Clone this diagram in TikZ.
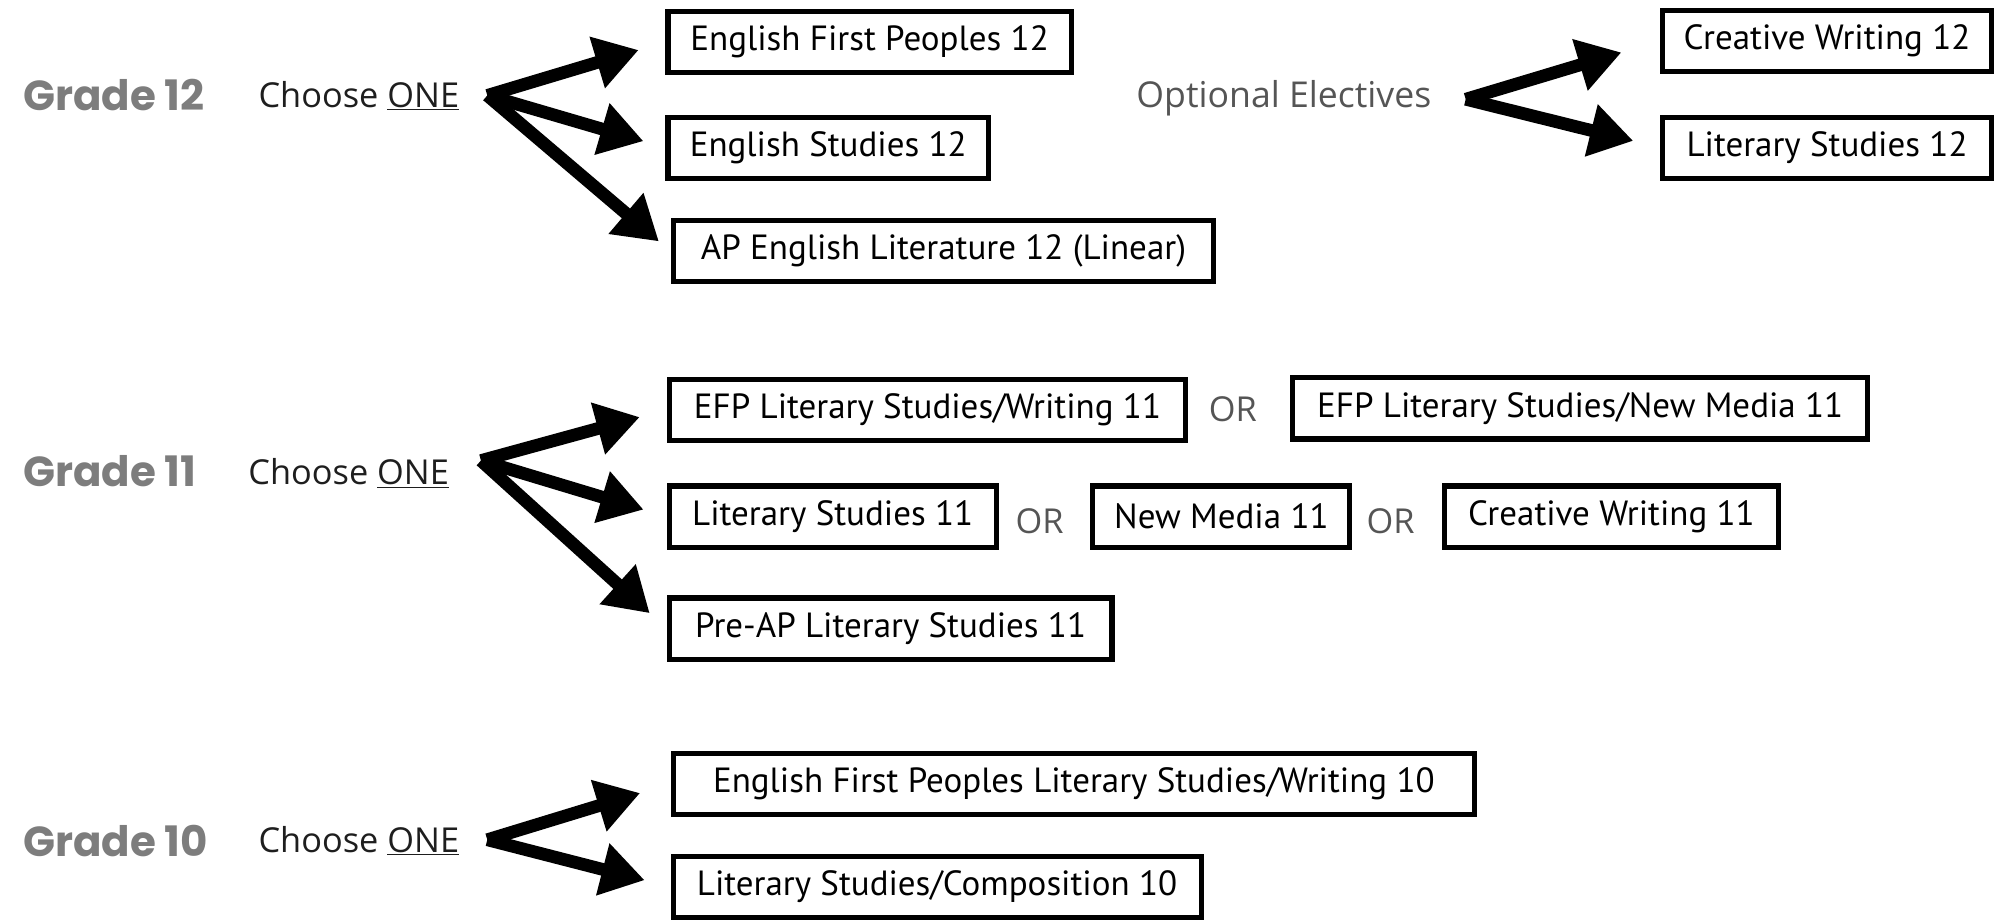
\documentclass[tikz,border=0pt]{standalone}
\usepackage{fontspec}
\setmainfont{PT Sans}
\newfontfamily\gradefont{Poppins}
\newfontfamily\lightfont{Open Sans}
\usetikzlibrary{arrows.meta}
\definecolor{gradegray}{RGB}{125,125,125}
\definecolor{textdark}{RGB}{30,30,30}
\definecolor{electgray}{RGB}{85,85,85}
\begin{document}
\begin{tikzpicture}[x=1pt,y=-1pt,
  box/.style={draw, line width=4pt, minimum height=48pt, inner sep=0pt, anchor=west, font=\fontsize{27.5}{30}\selectfont},
  grade/.style={anchor=west, inner sep=0pt, text=gradegray, font=\gradefont\bfseries\fontsize{33}{36}\selectfont},
  choose/.style={anchor=west, inner sep=0pt, text=textdark, font=\lightfont\fontsize{27}{30}\selectfont},
  ortext/.style={inner sep=0pt, text=electgray, font=\lightfont\fontsize{27}{30}\selectfont},
  arr/.style={line width=10pt, -{Triangle[length=34pt,width=40pt]}}
]
\useasboundingbox (0,0) rectangle (1568,724);

% Grade 12
\node[grade] (g12) at (18,75) {Grade 12};
\node[choose] (c12) at (203,75) {Choose \underline{ONE}};
\coordinate (o12) at (383,75);
\node[box, minimum width=317pt] (efp12) at (523,33) {English First Peoples 12};
\node[box, minimum width=252pt] (es12) at (523,116) {English Studies 12};
\node[box, minimum width=425pt] (ap12) at (527,197.5) {AP English Literature 12 (Linear)};
\draw[arr, shorten >=22pt] (o12) -- (efp12.west);
\draw[arr, shorten >=18pt] (o12) -- (es12.west);
\draw[arr, shorten >=12pt] (o12) -- (ap12.west);

\node[choose, text=electgray, font=\lightfont\fontsize{28}{30}\selectfont] (oe) at (893,77) {Optional Electives};
\coordinate (ooe) at (1152,78);
\node[box, minimum width=258pt] (cw12) at (1305,32) {Creative Writing 12};
\node[box, minimum width=258pt] (ls12) at (1305,116) {Literary Studies 12};
\draw[arr, shorten >=32pt] (ooe) -- (cw12.west);
\draw[arr, shorten >=22pt] (ooe) -- (ls12.west);

% Grade 11
\node[grade] (g11) at (18,370) {Grade 11};
\node[choose] (c11) at (195,372) {Choose \underline{ONE}};
\coordinate (o11) at (378,362);
\node[box, minimum width=406pt] (efpw11) at (524,322) {EFP Literary Studies/Writing 11};
\node[ortext] (or1) at (969,322) {OR};
\node[box, minimum width=452pt] (efpnm11) at (1014,321) {EFP Literary Studies/New Media 11};
\node[box, minimum width=257pt] (ls11) at (524,406) {Literary Studies 11};
\node[ortext] (or2) at (817,410) {OR};
\node[box, minimum width=202pt] (nm11) at (857,406) {New Media 11};
\node[ortext] (or3) at (1093,410) {OR};
\node[box, minimum width=263pt] (cw11) at (1133,406) {Creative Writing 11};
\node[box, minimum width=348pt] (preap11) at (524,494) {Pre-AP Literary Studies 11};
\draw[arr, shorten >=22pt] (o11) -- (efpw11.west);
\draw[arr, shorten >=19pt] (o11) -- (ls11.west);
\draw[arr, shorten >=18pt] (o11) -- (preap11.west);

% Grade 10
\node[grade] (g10) at (18,661) {Grade 10};
\node[choose] (c10) at (203,661) {Choose \underline{ONE}};
\coordinate (o10) at (383,660);
\node[box, minimum width=630pt] (efp10) at (527,616) {English First Peoples Literary Studies/Writing 10};
\node[box, minimum width=415pt] (lsc10) at (527,697) {Literary Studies/Composition 10};
\draw[arr, shorten >=25pt] (o10) -- (efp10.west);
\draw[arr, shorten >=21pt] (o10) -- (lsc10.west);
\end{tikzpicture}
\end{document}
